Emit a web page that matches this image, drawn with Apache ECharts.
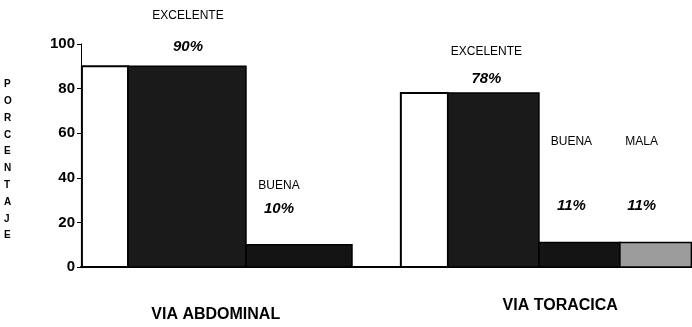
<!DOCTYPE html>
<html>
<head>
<meta charset="utf-8">
<script src="https://cdn.jsdelivr.net/npm/echarts@6/dist/echarts.min.js"></script>
<style>
html,body{margin:0;padding:0;background:#fff;}
#chart{width:692px;height:327px;}
</style>
</head>
<body>
<div id="chart"></div>
<script>
// ---- data ----
const categories = ['VIA ABDOMINAL', 'VIA TORACICA'];
const excelente = [90, 78];
const buena = [10, 11];
const mala = [null, 11];
const pctLabels = { excelente: ['90%', '78%'], buena: ['10%', '11%'], mala: ['', '11%'] };
const nameLabels = { excelente: 'EXCELENTE', buena: 'BUENA', mala: 'MALA' };
const yTicks = [0, 20, 40, 60, 80, 100];

// ---- layout / style (fractions of each category band) ----
const SEG = {
  side:      [[0.003, 0.154], [0.047, 0.201]],
  excelente: [[0.154, 0.540], [0.201, 0.499]],
  buena:     [[0.540, 0.887], [0.499, 0.764]],
  mala:      [[0.764, 0.764], [0.764, 0.998]]
};
// [dx from bar centre, pct gap above top, name gap above top]
const LBL = {
  excelente: [[1, 19, 51], [-7, 14, 41]],
  buena:     [[-20, 36, 59], [-8, 37, 101]],
  mala:      [[0, 0, 0], [-14, 37, 101]]
};
const FILL = { side: '#ffffff', excelente: '#1a1a1a', buena: '#141414', mala: '#9c9c9c' };
const FONT = '"Liberation Sans", Arial, sans-serif';

function makeRender(key) {
  return function (params, api) {
    const i = api.value(0);
    const v = api.value(1);
    const top = api.coord([i, v]);
    const base = api.coord([i, 0]);
    const bw = api.size([1, 0])[0];
    const start = top[0] - bw / 2;
    const seg = SEG[key][i];
    const x0 = start + seg[0] * bw;
    const x1 = start + seg[1] * bw;
    const children = [{
      type: 'rect',
      shape: { x: x0, y: top[1], width: x1 - x0, height: base[1] - top[1] },
      style: { fill: FILL[key], stroke: '#000', lineWidth: key === 'side' ? 2 : 1.5 }
    }];
    if (key !== 'side') {
      const o = LBL[key][i];
      const cx = (x0 + x1) / 2 + o[0];
      children.push({
        type: 'text', x: cx, y: top[1] - o[1],
        style: { text: pctLabels[key][i], font: 'italic bold 15px ' + FONT, fill: '#000', align: 'center', verticalAlign: 'middle' }
      });
      children.push({
        type: 'text', x: cx, y: top[1] - o[2],
        style: { text: nameLabels[key], font: '12px ' + FONT, fill: '#000', align: 'center', verticalAlign: 'middle' }
      });
    }
    return { type: 'group', children: children };
  };
}

function toData(arr) {
  const out = [];
  arr.forEach(function (v, i) { if (v != null) out.push([i, v]); });
  return out;
}

const chart = echarts.init(document.getElementById('chart'), null, { renderer: 'canvas' });
chart.setOption({
  animation: false,
  backgroundColor: '#ffffff',
  grid: { left: 81, right: 0, top: 44, bottom: 60, containLabel: false },
  xAxis: {
    type: 'category',
    data: categories,
    axisLine: { show: true, lineStyle: { color: '#000', width: 2 } },
    axisTick: { show: false },
    axisLabel: {
      margin: 31,
      formatter: function (val, idx) { return idx === 0 ? '{a|' + val + '}' : '{b|' + val + '}'; },
      rich: {
        a: { fontFamily: FONT, fontWeight: 'bold', fontSize: 16, color: '#000', padding: [9, 36, 0, 0] },
        b: { fontFamily: FONT, fontWeight: 'bold', fontSize: 16, color: '#000', padding: [0, 0, 0, 42] }
      }
    }
  },
  yAxis: {
    type: 'value',
    min: yTicks[0],
    max: yTicks[yTicks.length - 1],
    interval: 20,
    axisLine: { show: true, lineStyle: { color: '#000', width: 1 } },
    axisTick: { show: true, length: 4, lineStyle: { color: '#000' } },
    splitLine: { show: false },
    axisLabel: { margin: 6, fontFamily: FONT, fontWeight: 'bold', fontSize: 15, color: '#000' }
  },
  graphic: [{
    type: 'text', left: 4, top: 76,
    style: {
      text: 'PORCENTAJE'.split('').join('\n'),
      font: 'bold 10px ' + FONT, fill: '#000', lineHeight: 16.8, align: 'center'
    }
  }],
  series: [
    { type: 'custom', name: 'side', renderItem: makeRender('side'), data: toData(excelente), silent: true },
    { type: 'custom', name: 'EXCELENTE', renderItem: makeRender('excelente'), data: toData(excelente) },
    { type: 'custom', name: 'BUENA', renderItem: makeRender('buena'), data: toData(buena) },
    { type: 'custom', name: 'MALA', renderItem: makeRender('mala'), data: toData(mala) }
  ]
});
</script>
</body>
</html>
